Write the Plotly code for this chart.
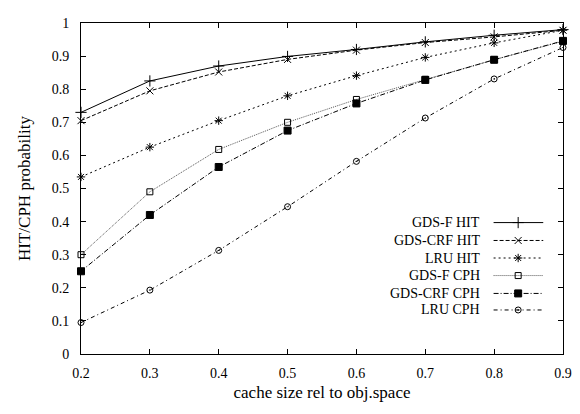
import plotly.graph_objects as go

x_vals = [0.2, 0.3, 0.4, 0.5, 0.6, 0.7, 0.8, 0.9]
gdsf_hit = [0.730, 0.825, 0.870, 0.899, 0.920, 0.943, 0.963, 0.980]
gdscrf_hit = [0.705, 0.795, 0.852, 0.890, 0.918, 0.941, 0.958, 0.978]
lru_hit = [0.535, 0.625, 0.705, 0.780, 0.841, 0.896, 0.940, 0.978]
gdsf_cph = [0.300, 0.490, 0.618, 0.700, 0.769, 0.830, 0.889, 0.945]
gdscrf_cph = [0.250, 0.420, 0.565, 0.675, 0.757, 0.828, 0.889, 0.946]
lru_cph = [0.095, 0.193, 0.313, 0.445, 0.582, 0.713, 0.831, 0.926]

names = ["GDS-F HIT", "GDS-CRF HIT", "LRU HIT", "GDS-F CPH", "GDS-CRF CPH", "LRU CPH"]
series = [gdsf_hit, gdscrf_hit, lru_hit, gdsf_cph, gdscrf_cph, lru_cph]
dashes = ["solid", "4px,2px", "2px,3px", "1px,1px", "5px,2px,1px,2px", "4px,3px,1px,3px"]
symbols = ["cross-thin-open", "x-thin-open", "asterisk-open", "square-open", "square", "circle-open-dot"]
sizes = [8, 7, 7, 6, 7, 6]
line_colors = ["black", "black", "black", "#555", "black", "black"]

x_ticks = [0.2, 0.3, 0.4, 0.5, 0.6, 0.7, 0.8, 0.9]
y_ticks = [0, 0.1, 0.2, 0.3, 0.4, 0.5, 0.6, 0.7, 0.8, 0.9, 1]
y_tick_labels = ["0", "0.1", "0.2", "0.3", "0.4", "0.5", "0.6", "0.7", "0.8", "0.9", "1"]

FONT = "Liberation Serif, Times New Roman, serif"

fig = go.Figure()
for name, ys, d, s, sz, lc in zip(names, series, dashes, symbols, sizes, line_colors):
    fig.add_trace(go.Scatter(
        x=x_vals, y=ys, mode="lines+markers", name=name,
        line=dict(color=lc, width=1, dash=d),
        marker=dict(symbol=s, size=sz, color="black", line=dict(color="black", width=1)),
        showlegend=False, cliponaxis=False,
    ))

# custom gnuplot-style legend (text on left, sample on right)
legend_rows_y = [0.397, 0.343, 0.290, 0.237, 0.183, 0.133]
for i, (name, d, s, sz, lc) in enumerate(zip(names, dashes, symbols, sizes, line_colors)):
    yy = legend_rows_y[i]
    fig.add_trace(go.Scatter(
        x=[0.856, 0.959], y=[yy, yy], mode="lines", xaxis="x2", yaxis="y2",
        line=dict(color=lc, width=1, dash=d), showlegend=False, hoverinfo="skip",
    ))
    fig.add_trace(go.Scatter(
        x=[0.907], y=[yy], mode="markers", xaxis="x2", yaxis="y2",
        marker=dict(symbol=s, size=sz, color="black", line=dict(color="black", width=1)),
        showlegend=False, hoverinfo="skip",
    ))
    fig.add_annotation(x=0.832, y=yy, xref="x2", yref="y2", text=name,
                       showarrow=False, xanchor="right", yanchor="middle",
                       font=dict(family=FONT, size=14, color="black"))

# page body has an 8px default margin, so the figure is shrunk by 8px
fig.update_layout(
    width=572, height=406,
    margin=dict(l=73, r=13, t=8, b=60),
    paper_bgcolor="white", plot_bgcolor="white",
    font=dict(family=FONT, size=14, color="black"),
    xaxis=dict(range=[0.2, 0.9], tickvals=x_ticks, ticktext=[str(v) for v in x_ticks],
               ticks="inside", ticklen=5, tickcolor="black", mirror="ticks",
               showline=True, linecolor="black", linewidth=1, showgrid=False, zeroline=False,
               ticklabelstandoff=6,
               title=dict(text="cache size rel to obj.space", standoff=6),
               tickfont=dict(size=14)),
    yaxis=dict(range=[0, 1], tickvals=y_ticks, ticktext=y_tick_labels,
               ticks="inside", ticklen=5, tickcolor="black", mirror="ticks",
               showline=True, linecolor="black", linewidth=1, showgrid=False, zeroline=False,
               ticklabelstandoff=8,
               title=dict(text="HIT/CPH probability", standoff=16),
               tickfont=dict(size=14)),
    xaxis2=dict(range=[0, 1], overlaying="x", visible=False, fixedrange=True),
    yaxis2=dict(range=[0, 1], overlaying="y", visible=False, fixedrange=True),
    showlegend=False,
)

fig.write_html("out.html")
